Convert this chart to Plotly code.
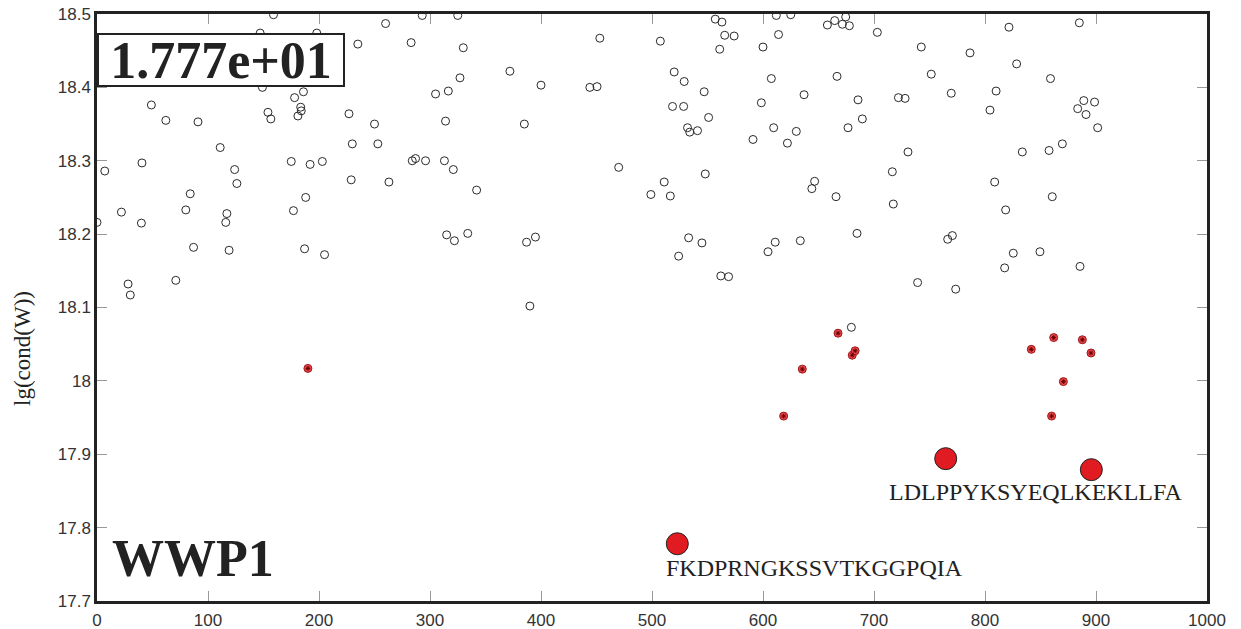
import plotly.graph_objects as go

# ---- data ----
bg_x = [0, 7, 22, 28, 30, 40.5, 40, 49, 62, 71, 80, 84, 87, 91, 111, 116, 117, 119, 124, 126,
        147, 149, 154, 156.6, 159, 175, 177, 178, 181, 183.5, 184, 186, 187, 188, 192, 198, 203, 205,
        227, 229, 230, 235, 250, 253, 260, 263, 283, 284, 287, 293, 296, 305, 313, 314, 315, 316.5,
        321, 322, 325, 327, 330, 334, 342, 372, 385, 387, 390, 395, 400, 444, 450.5, 453, 470, 499,
        507.5, 511, 516.5, 518.5, 520, 524, 528.5, 529, 532, 533, 534, 541, 545, 547, 548, 551, 557,
        561, 562, 563, 565.5, 569, 574, 591, 598.5, 600, 604.5, 607.5, 609.6, 611, 612, 614, 622, 625,
        630, 633.6, 637, 644, 646.5, 658, 664.6, 665.8, 666.7, 671.5, 674.5, 676.6, 677.8, 679.6,
        684.7, 685.6, 689.5, 703, 716.5, 717.4, 722, 728, 730.6, 739.3, 742.6, 751.6, 766.4, 769.6,
        770.6, 773.6, 786.5, 804.5, 808.7, 810, 817.7, 818.6, 821.6, 825.5, 828.5, 833.6, 849.5,
        857.7, 859, 860.6, 869.7, 883.5, 885, 885.6, 889, 891, 898.7, 901.5]
bg_y = [18.216, 18.286, 18.230, 18.132, 18.117, 18.297, 18.215, 18.376, 18.355, 18.137, 18.233,
        18.255, 18.182, 18.353, 18.318, 18.216, 18.228, 18.178, 18.288, 18.269,
        18.474, 18.400, 18.366, 18.357, 18.499, 18.299, 18.232, 18.386, 18.361, 18.373, 18.368,
        18.394, 18.180, 18.250, 18.295, 18.474, 18.299, 18.172,
        18.364, 18.274, 18.323, 18.459, 18.350, 18.323, 18.487, 18.271, 18.461, 18.300, 18.303,
        18.498, 18.300, 18.391, 18.300, 18.354, 18.199, 18.395,
        18.288, 18.191, 18.498, 18.413, 18.454, 18.201, 18.260, 18.422, 18.350, 18.189, 18.102,
        18.196, 18.403, 18.400, 18.401, 18.467, 18.291, 18.254,
        18.463, 18.271, 18.252, 18.374, 18.421, 18.170, 18.374, 18.408, 18.345, 18.195, 18.339,
        18.341, 18.188, 18.394, 18.282, 18.359, 18.493,
        18.452, 18.143, 18.489, 18.471, 18.142, 18.470, 18.329, 18.379, 18.455, 18.176, 18.412,
        18.345, 18.189, 18.498, 18.472, 18.324, 18.499,
        18.340, 18.191, 18.390, 18.262, 18.272, 18.485, 18.491, 18.251, 18.415, 18.486, 18.496,
        18.345, 18.484, 18.073,
        18.201, 18.383, 18.357, 18.475, 18.285, 18.241, 18.386, 18.385, 18.312, 18.134, 18.455,
        18.418, 18.193, 18.392,
        18.198, 18.125, 18.447, 18.369, 18.271, 18.395, 18.154, 18.233, 18.482, 18.174, 18.432,
        18.312, 18.176,
        18.314, 18.412, 18.251, 18.323, 18.371, 18.488, 18.156, 18.382, 18.363, 18.380, 18.345]

hit_x = [190, 618.6, 635.4, 667.6, 680.4, 683, 841.7, 860, 861.9, 870.6, 887.7, 895.5]
hit_y = [18.017, 17.952, 18.016, 18.065, 18.035, 18.041, 18.043, 17.952, 18.059, 17.999, 18.056, 18.038]

top_x = [522.8, 764.6, 895.8]
top_y = [17.778, 17.894, 17.879]
top_labels = ["FKDPRNGKSSVTKGGPQIA", "", "LDLPPYKSYEQLKEKLLFA"]

protein = "WWP1"
score_text = "1.777e+01"
y_title = "lg(cond(W))"

x_ticks = [0, 100, 200, 300, 400, 500, 600, 700, 800, 900, 1000]
y_ticks = [17.7, 17.8, 17.9, 18.0, 18.1, 18.2, 18.3, 18.4, 18.5]
y_ticktext = ["17.7", "17.8", "17.9", "18", "18.1", "18.2", "18.3", "18.4", "18.5"]

# ---- figure ----
fig = go.Figure()
fig.add_trace(go.Scatter(
    x=bg_x, y=bg_y, mode="markers", showlegend=False,
    marker=dict(symbol="circle-open", size=8, color="#2a2a2a", line=dict(width=1, color="#2a2a2a")),
))
fig.add_trace(go.Scatter(
    x=hit_x, y=hit_y, mode="markers", showlegend=False,
    marker=dict(symbol="circle", size=8, color="#e8474c", line=dict(width=1, color="#a01818")),
))
fig.add_trace(go.Scatter(
    x=hit_x, y=hit_y, mode="markers", showlegend=False,
    marker=dict(symbol="asterisk-open", size=4, color="#6a0000", line=dict(width=1, color="#6a0000")),
))
fig.add_trace(go.Scatter(
    x=top_x, y=top_y, mode="markers", showlegend=False,
    marker=dict(symbol="circle", size=22, color="#e01b22", line=dict(width=1, color="#222222")),
))

serif = "Liberation Serif, Times New Roman, serif"
sans = "Liberation Sans, Arial, sans-serif"

# sequence labels under the top hits
fig.add_annotation(x=top_x[0], y=top_y[0], xref="x", yref="y", text=top_labels[0],
                   showarrow=False, xanchor="left", yanchor="middle", xshift=-13, yshift=-24,
                   font=dict(family=serif, size=24, color="#222"))
fig.add_annotation(x=top_x[2], y=top_y[2], xref="x", yref="y", text=top_labels[2],
                   showarrow=False, xanchor="center", yanchor="middle", xshift=-55, yshift=-22,
                   font=dict(family=serif, size=24, color="#222"))

# score box
fig.add_annotation(x=0, y=(601 - 33) / 587, xref="paper", yref="paper", text="<b>%s</b>" % score_text,
                   showarrow=False, xanchor="left", yanchor="top",
                   width=244, height=50, borderpad=0, borderwidth=2, bordercolor="#222",
                   bgcolor="white", align="center", valign="middle",
                   font=dict(family=serif, size=52, color="#222"))
# protein name
fig.add_annotation(x=(110 - 97) / 1110, y=(601 - 558) / 587, xref="paper", yref="paper",
                   text="<b>%s</b>" % protein, showarrow=False, xanchor="left", yanchor="middle",
                   font=dict(family=serif, size=52, color="#222"))
# y title
fig.add_annotation(x=(22 - 97) / 1110, y=(601 - 349) / 587, xref="paper", yref="paper",
                   text=y_title, showarrow=False, textangle=-90, xanchor="center", yanchor="middle",
                   font=dict(family=serif, size=23, color="#222"))

axis_common = dict(showgrid=False, zeroline=False, showline=True, linewidth=2.5, linecolor="#222",
                   mirror="ticks", ticks="inside", ticklen=10, tickwidth=1, tickcolor="#999",
                   automargin=False, tickfont=dict(family=sans, size=17, color="#333"))
fig.update_xaxes(range=[0, 1000], tickvals=x_ticks, ticktext=[str(v) for v in x_ticks],
                 ticklabelstandoff=2, **axis_common)
fig.update_yaxes(range=[17.7, 18.5], tickvals=y_ticks, ticktext=y_ticktext, **axis_common)

fig.update_layout(width=1241, height=629, margin=dict(l=97, r=34, t=14, b=28, autoexpand=False),
                  paper_bgcolor="white", plot_bgcolor="white")

fig.write_html("out.html")
